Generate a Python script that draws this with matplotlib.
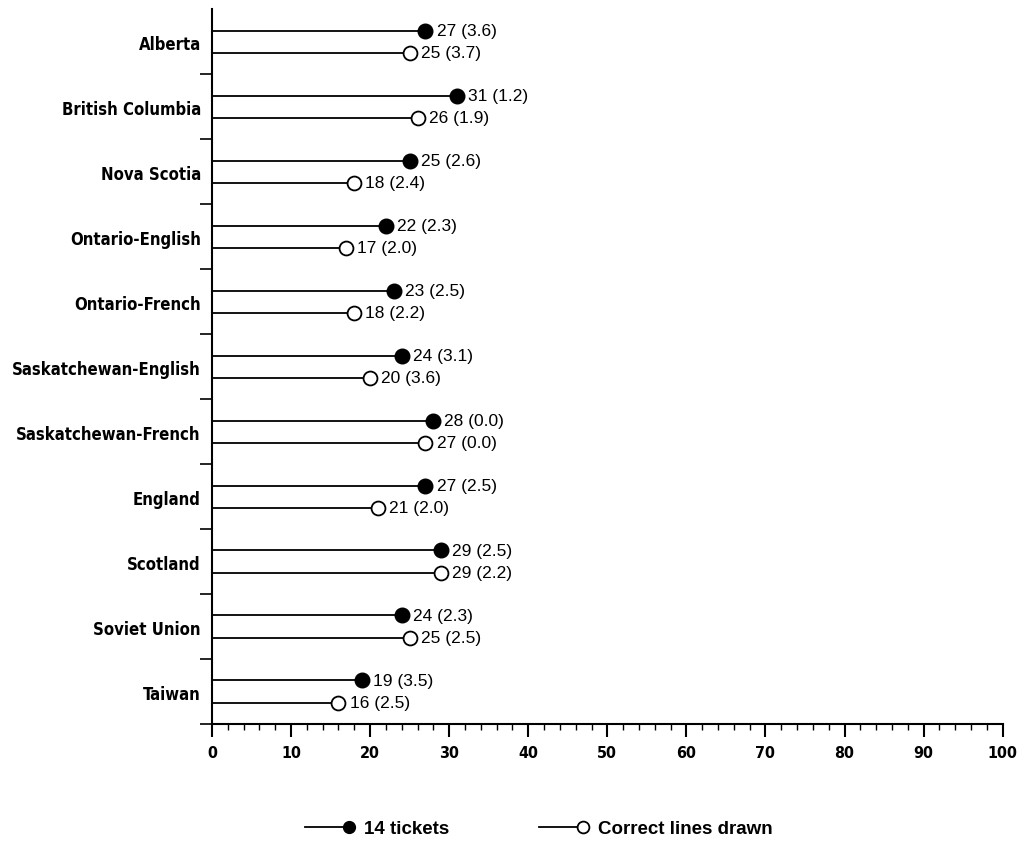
import matplotlib
matplotlib.use("Agg")
import matplotlib.pyplot as plt
from matplotlib.ticker import MultipleLocator
from matplotlib.lines import Line2D
from matplotlib.legend_handler import HandlerLine2D
import numpy as np

categories = ["Alberta", "British Columbia", "Nova Scotia", "Ontario-English",
              "Ontario-French", "Saskatchewan-English", "Saskatchewan-French",
              "England", "Scotland", "Soviet Union", "Taiwan"]
tickets = [27, 31, 25, 22, 23, 24, 28, 27, 29, 24, 19]
tickets_se = [3.6, 1.2, 2.6, 2.3, 2.5, 3.1, 0.0, 2.5, 2.5, 2.3, 3.5]
correct = [25, 26, 18, 17, 18, 20, 27, 21, 29, 25, 16]
correct_se = [3.7, 1.9, 2.4, 2.0, 2.2, 3.6, 0.0, 2.0, 2.2, 2.5, 2.5]
xticks = list(range(0, 101, 10))


class RightMarkerHandler(HandlerLine2D):
    def create_artists(self, legend, orig_handle, xdescent, ydescent, width,
                       height, fontsize, trans):
        arts = super().create_artists(legend, orig_handle, xdescent, ydescent,
                                      width, height, fontsize, trans)
        for a in arts:
            xd = a.get_xdata()
            if len(xd) >= 2:
                a.set_markevery([len(xd) - 1])
        return arts


fig = plt.figure(figsize=(10.19, 8.45), dpi=100)
ax = fig.add_axes([0.208, 0.142, 0.776, 0.846])

n = len(categories)
centers = np.array([n - i - 0.5 for i in range(n)])
off = 0.17

for i, c in enumerate(centers):
    yf = c + off
    yo = c - off
    ax.plot([0, tickets[i]], [yf, yf], color="black", lw=1.3, zorder=2)
    ax.plot([tickets[i]], [yf], marker="o", ms=10.5, color="black", mfc="black", zorder=3)
    ax.text(tickets[i] + 1.4, yf, f"{tickets[i]} ({tickets_se[i]:.1f})", va="center",
            ha="left", fontsize=12.5, family="Liberation Sans")
    ax.plot([0, correct[i]], [yo, yo], color="black", lw=1.3, zorder=2)
    ax.plot([correct[i]], [yo], marker="o", ms=10, color="black", mfc="white",
            mew=1.3, zorder=3)
    ax.text(correct[i] + 1.4, yo, f"{correct[i]} ({correct_se[i]:.1f})", va="center",
            ha="left", fontsize=12.5, family="Liberation Sans")

ax.set_xlim(0, 100)
ax.set_ylim(0, n)
for s in ["top", "right"]:
    ax.spines[s].set_visible(False)
ax.spines["left"].set_linewidth(1.5)
ax.spines["bottom"].set_linewidth(1.5)

ax.set_xticks(xticks)
ax.xaxis.set_minor_locator(MultipleLocator(2))
ax.tick_params(axis="x", which="major", length=9, width=1.5, direction="out", pad=6)
ax.tick_params(axis="x", which="minor", length=4, width=1.0, direction="out")
for lab in ax.get_xticklabels():
    lab.set_fontfamily("DejaVu Sans")
    lab.set_fontstretch("condensed")
    lab.set_fontweight("bold")
    lab.set_fontsize(11.5)

ax.set_yticks(np.arange(0, n))
ax.set_yticklabels([])
ax.tick_params(axis="y", which="major", length=9, width=1.2, direction="out")
ax.set_yticks(centers, minor=True)
ax.set_yticklabels(categories, minor=True)
ax.tick_params(axis="y", which="minor", length=0, pad=8)
for lab in ax.get_yticklabels(minor=True):
    lab.set_fontfamily("DejaVu Sans")
    lab.set_fontstretch("condensed")
    lab.set_fontweight("bold")
    lab.set_fontsize(12)

handles = [
    Line2D([], [], color="black", lw=1.3, marker="o", ms=8.5, mfc="black"),
    Line2D([], [], color="black", lw=1.3, marker="o", ms=8.5, mfc="white", mew=1.3),
]
leg = fig.legend(handles, ["14 tickets", "Correct lines drawn"], loc="center",
                 bbox_to_anchor=(0.529, 0.018), ncol=2, frameon=False,
                 handlelength=2.35, columnspacing=4.8, handletextpad=0.8,
                 handler_map={Line2D: RightMarkerHandler()},
                 prop={"family": "Liberation Sans", "weight": "bold", "size": 13.5})

fig.savefig("out.png", dpi=100)
